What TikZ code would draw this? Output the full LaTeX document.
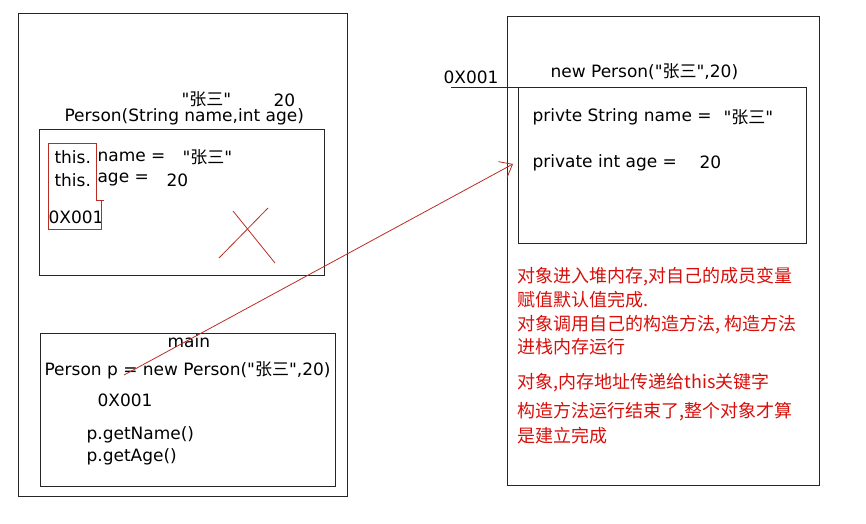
\documentclass[tikz,border=0pt]{standalone}
\usepackage{fontspec}
\setmainfont{DejaVu Sans}[Ligatures=TeXOff]
\newfontfamily\cjk{Noto Sans CJK SC}
\usepackage{tikz}
\usetikzlibrary{arrows,arrows.meta,positioning}
\definecolor{penred}{RGB}{185,45,35}
\definecolor{txtred}{RGB}{215,15,10}
\newcommand{\zsan}{"{\cjk 张三}"}

\begin{document}
\begin{tikzpicture}[x=1pt, y=-1pt, line width=1.1pt]
   \useasboundingbox (0,0) rectangle (866,523);
   % boxes
   \begin{scope}[every node/.style={rectangle,draw=black!85,anchor=north west,inner sep=0}]
    \node (b1) [minimum width=329, minimum height=483] at (18,13) {};
    \node (b2) [minimum width=285, minimum height=146] at (39,129) {};
    \node (b3) [minimum width=295, minimum height=153] at (40,333) {};
    \node (b4) [minimum width=312, minimum height=469] at (507,16) {};
    \node (b5) [minimum width=288, minimum height=156] at (518,87) {};
   \end{scope}
   % black texts
   \begin{scope}[every node/.style={anchor=west,inner sep=0,font=\fontsize{17}{20}\selectfont}]
    \node (c1) at (181,99) {\zsan};
    \node (c2) at (273,100) {20};
    \node (c3) at (64,117) {Person(String name,int age)};
    \node (c4) at (54,157) {this.};
    \node (c5) at (97,157) {name =};
    \node (c6) at (182,157) {\zsan};
    \node (c7) at (54,180) {this.};
    \node (c8) at (97,180) {age =};
    \node (c9) at (166,180) {20};
    \node (c10) at (48,217) {0X001};
    \node (m1) at (167,341) {main};
    \node (m2) at (44,370) {Person p = new Person(\zsan,20)};
    \node (m3) at (97,400) {0X001};
    \node (m4) at (86,435) {p.getName()};
    \node (m5) at (86,457) {p.getAge()};
    \node (h1) at (443,77) {0X001};
    \node (h2) at (550,72) {new Person(\zsan,20)};
    \node (h3) at (532,117) {privte String name =};
    \node (h4) at (723,117) {\zsan};
    \node (h5) at (532,163) {private int age =};
    \node (h6) at (699,162) {20};
   \end{scope}
   % red notes
   \begin{scope}[every node/.style={anchor=west,inner sep=0,text=txtred,font=\cjk\fontsize{18}{21}\selectfont}]
    \node (r1) at (517,277) {对象进入堆内存,对自己的成员变量};
    \node (r2) at (517,300) {赋值默认值完成.};
    \node (r3) at (517,325) {对象调用自己的构造方法, 构造方法};
    \node (r4) at (517,347) {进栈内存运行};
    \node (r5) at (517,383) {对象,内存地址传递给this关键字};
    \node (r6) at (517,412) {构造方法运行结束了,整个对象才算};
    \node (r7) at (517,436) {是建立完成};
   \end{scope}
   % pen marks
   \coordinate (u1) at (451,87);
   \coordinate (pv) at (124,375);
   \coordinate (ad) at (513,164);
   \draw [black!85, line width=0.9pt] (u1) -- (u1 -| b5.west);
   \begin{scope}[penred, line width=0.8pt]
    \draw (96,200) -- (96,143) -- (48,143) -- (48,229) -- (101,229) -- (101,200);
    \draw (96,200) -- (104,200);
    \draw (233,211) -- (275,263);
    \draw (268,208) -- (219,258);
    \draw [-{Straight Barb[length=11pt,width=18pt]}] (pv) -- (ad);
   \end{scope}
\end{tikzpicture}
\end{document}
